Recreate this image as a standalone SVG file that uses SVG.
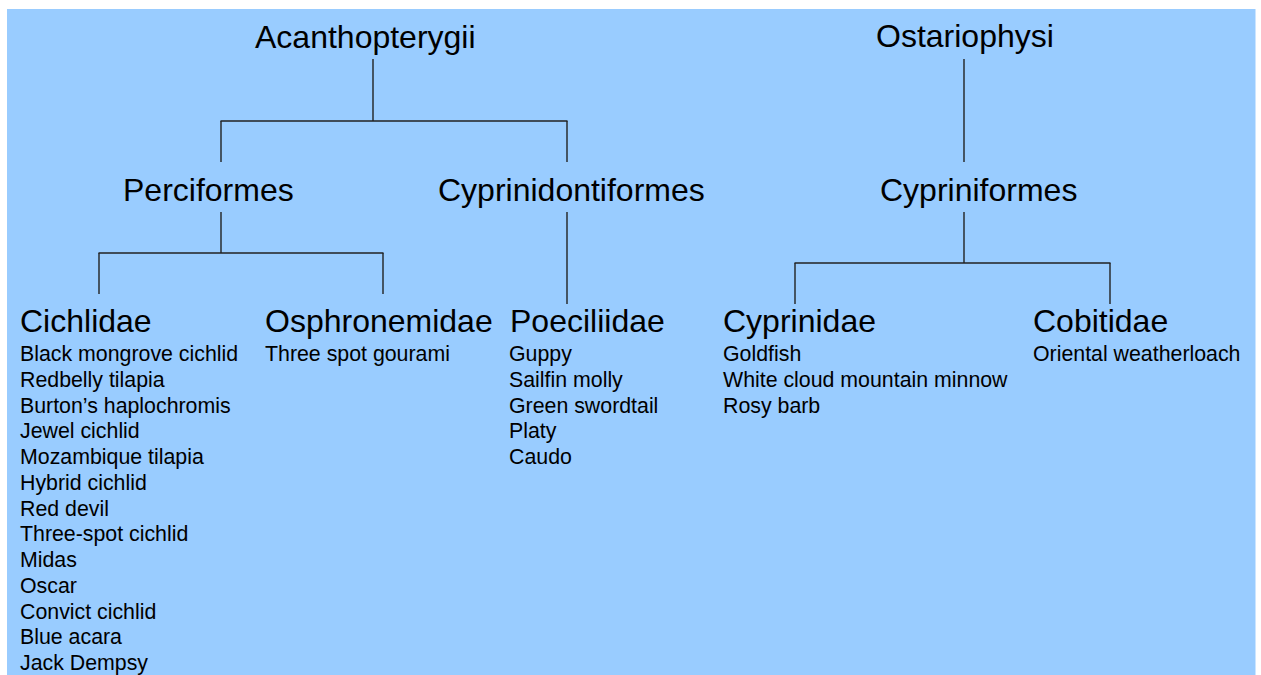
<svg xmlns="http://www.w3.org/2000/svg" width="1261" height="675" viewBox="0 0 1261 675">
<style>
text{font-family:"Liberation Sans",Arial,sans-serif;fill:#000}
.big{font-size:32px}
.sp{font-size:21.33px}
.conn line{stroke:#222;stroke-width:1.4}
</style>
<rect x="0" y="0" width="1261" height="675" fill="#fff"/>
<rect x="7" y="9" width="1248.5" height="670" fill="#99CCFF"/>
<g id="connectors" class="conn">
<line x1="373" y1="59" x2="373" y2="121"/>
<line x1="220.5" y1="121" x2="567.5" y2="121"/>
<line x1="221" y1="121" x2="221" y2="162"/>
<line x1="567" y1="121" x2="567" y2="162"/>
<line x1="221" y1="212" x2="221" y2="253"/>
<line x1="98.5" y1="253" x2="383.5" y2="253"/>
<line x1="99" y1="253" x2="99" y2="294"/>
<line x1="383" y1="253" x2="383" y2="294"/>
<line x1="567" y1="212" x2="567" y2="304"/>
<line x1="964" y1="59" x2="964" y2="162"/>
<line x1="964" y1="212" x2="964" y2="263"/>
<line x1="794.5" y1="263" x2="1110.5" y2="263"/>
<line x1="795" y1="263" x2="795" y2="304"/>
<line x1="1110" y1="263" x2="1110" y2="304"/>
</g>
<g id="acanthopterygii"><text class="big" x="255" y="48">Acanthopterygii</text></g>
<g id="ostariophysi"><text class="big" x="876" y="47">Ostariophysi</text></g>
<g id="perciformes"><text class="big" x="123" y="201">Perciformes</text></g>
<g id="cyprinodontiformes"><text class="big" x="438" y="201">Cyprinidontiformes</text></g>
<g id="cypriniformes"><text class="big" x="880" y="201">Cypriniformes</text></g>
<g id="cichlidae">
<text class="big" x="20" y="332">Cichlidae</text>
<text class="sp" x="20" y="361">Black mongrove cichlid</text>
<text class="sp" x="20" y="386.75">Redbelly tilapia</text>
<text class="sp" x="20" y="412.5">Burton’s haplochromis</text>
<text class="sp" x="20" y="438.25">Jewel cichlid</text>
<text class="sp" x="20" y="464">Mozambique tilapia</text>
<text class="sp" x="20" y="489.75">Hybrid cichlid</text>
<text class="sp" x="20" y="515.5">Red devil</text>
<text class="sp" x="20" y="541.25">Three-spot cichlid</text>
<text class="sp" x="20" y="567">Midas</text>
<text class="sp" x="20" y="592.75">Oscar</text>
<text class="sp" x="20" y="618.5">Convict cichlid</text>
<text class="sp" x="20" y="644.25">Blue acara</text>
<text class="sp" x="20" y="670">Jack Dempsy</text>
</g>
<g id="osphronemidae">
<text class="big" x="265" y="332">Osphronemidae</text>
<text class="sp" x="265" y="361">Three spot gourami</text>
</g>
<g id="poeciliidae">
<text class="big" x="510" y="332">Poeciliidae</text>
<text class="sp" x="509" y="361">Guppy</text>
<text class="sp" x="509" y="386.75">Sailfin molly</text>
<text class="sp" x="509" y="412.5">Green swordtail</text>
<text class="sp" x="509" y="438.25">Platy</text>
<text class="sp" x="509" y="464">Caudo</text>
</g>
<g id="cyprinidae">
<text class="big" x="723" y="332">Cyprinidae</text>
<text class="sp" x="723" y="361">Goldfish</text>
<text class="sp" x="723" y="386.75">White cloud mountain minnow</text>
<text class="sp" x="723" y="412.5">Rosy barb</text>
</g>
<g id="cobitidae">
<text class="big" x="1033" y="332">Cobitidae</text>
<text class="sp" x="1033" y="361">Oriental weatherloach</text>
</g>
</svg>
